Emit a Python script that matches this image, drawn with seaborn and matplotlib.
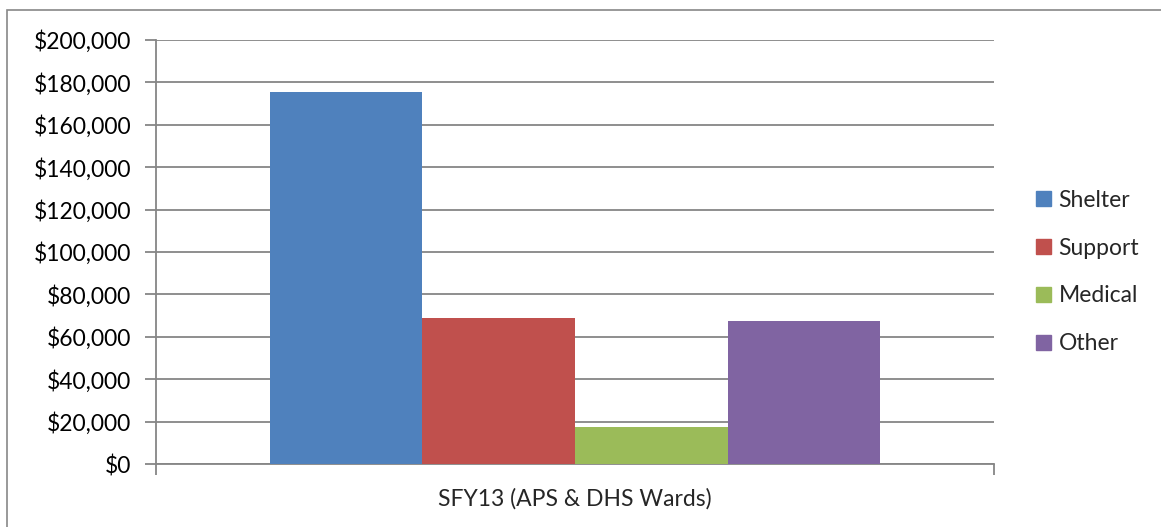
import matplotlib
matplotlib.use("Agg")
import matplotlib.pyplot as plt
import matplotlib.patches as mpatches
import matplotlib.ticker as mticker
import pandas as pd
import seaborn as sns

period = ["SFY13 (APS & DHS Wards)"]
categories = ["Shelter", "Support", "Medical", "Other"]
amounts = [175500, 69000, 17500, 67500]
colors = ["#4F81BD", "#C0504D", "#9BBB59", "#8064A2"]
y_ticks = list(range(0, 200001, 20000))

df = pd.DataFrame({
    "period": period * len(categories),
    "category": categories,
    "amount": amounts,
})

sns.set_style("white")
plt.rcParams["font.family"] = ["Lato", "DejaVu Sans"]
fs = 16.5

fig = plt.figure(figsize=(11.61, 5.27), dpi=100)
ax = fig.add_axes([156 / 1161, 63 / 527, 838 / 1161, 424 / 527])

sns.barplot(data=df, x="period", y="amount", hue="category",
            palette=colors, width=0.728, saturation=1, ax=ax,
            linewidth=0, zorder=3)

grid_c = "#868686"
ax.set_ylim(0, 200000)
ax.set_xlim(-0.5, 0.5)
ax.set_yticks(y_ticks)
ax.yaxis.set_major_formatter(mticker.FuncFormatter(lambda v, p: f"${v:,.0f}"))
ax.yaxis.grid(True, color=grid_c, linewidth=1.3, zorder=0)
ax.set_axisbelow(True)

for s in ["top", "right"]:
    ax.spines[s].set_visible(False)
for s in ["left", "bottom"]:
    ax.spines[s].set_color(grid_c)
    ax.spines[s].set_linewidth(1.3)

ax.tick_params(axis="y", left=True, length=8, width=1.3, color=grid_c,
               labelsize=fs, pad=10, labelcolor="black")
ax.set_xticks([-0.5, 0.5])
ax.set_xticklabels(["", ""])
ax.tick_params(axis="x", bottom=True, length=8, width=1.3, color=grid_c)
ax.set_xlabel(period[0], fontsize=fs, labelpad=6)
ax.set_ylabel("")

ax.get_legend().remove()
handles = [mpatches.Patch(color=c, label=l) for c, l in zip(colors, categories)]
fig.legend(handles=handles, loc="center left", bbox_to_anchor=(1015 / 1161, 255 / 527),
           frameon=False, fontsize=fs, handlelength=0.65, handleheight=0.65,
           handletextpad=0.35, labelspacing=1.17)

border = mpatches.Rectangle((7 / 1161, -0.1), 1.2, (517 / 527) + 0.1,
                            transform=fig.transFigure, fill=False,
                            edgecolor="#888888", linewidth=1.2)
fig.patches.append(border)

fig.savefig("out.png", dpi=100)
